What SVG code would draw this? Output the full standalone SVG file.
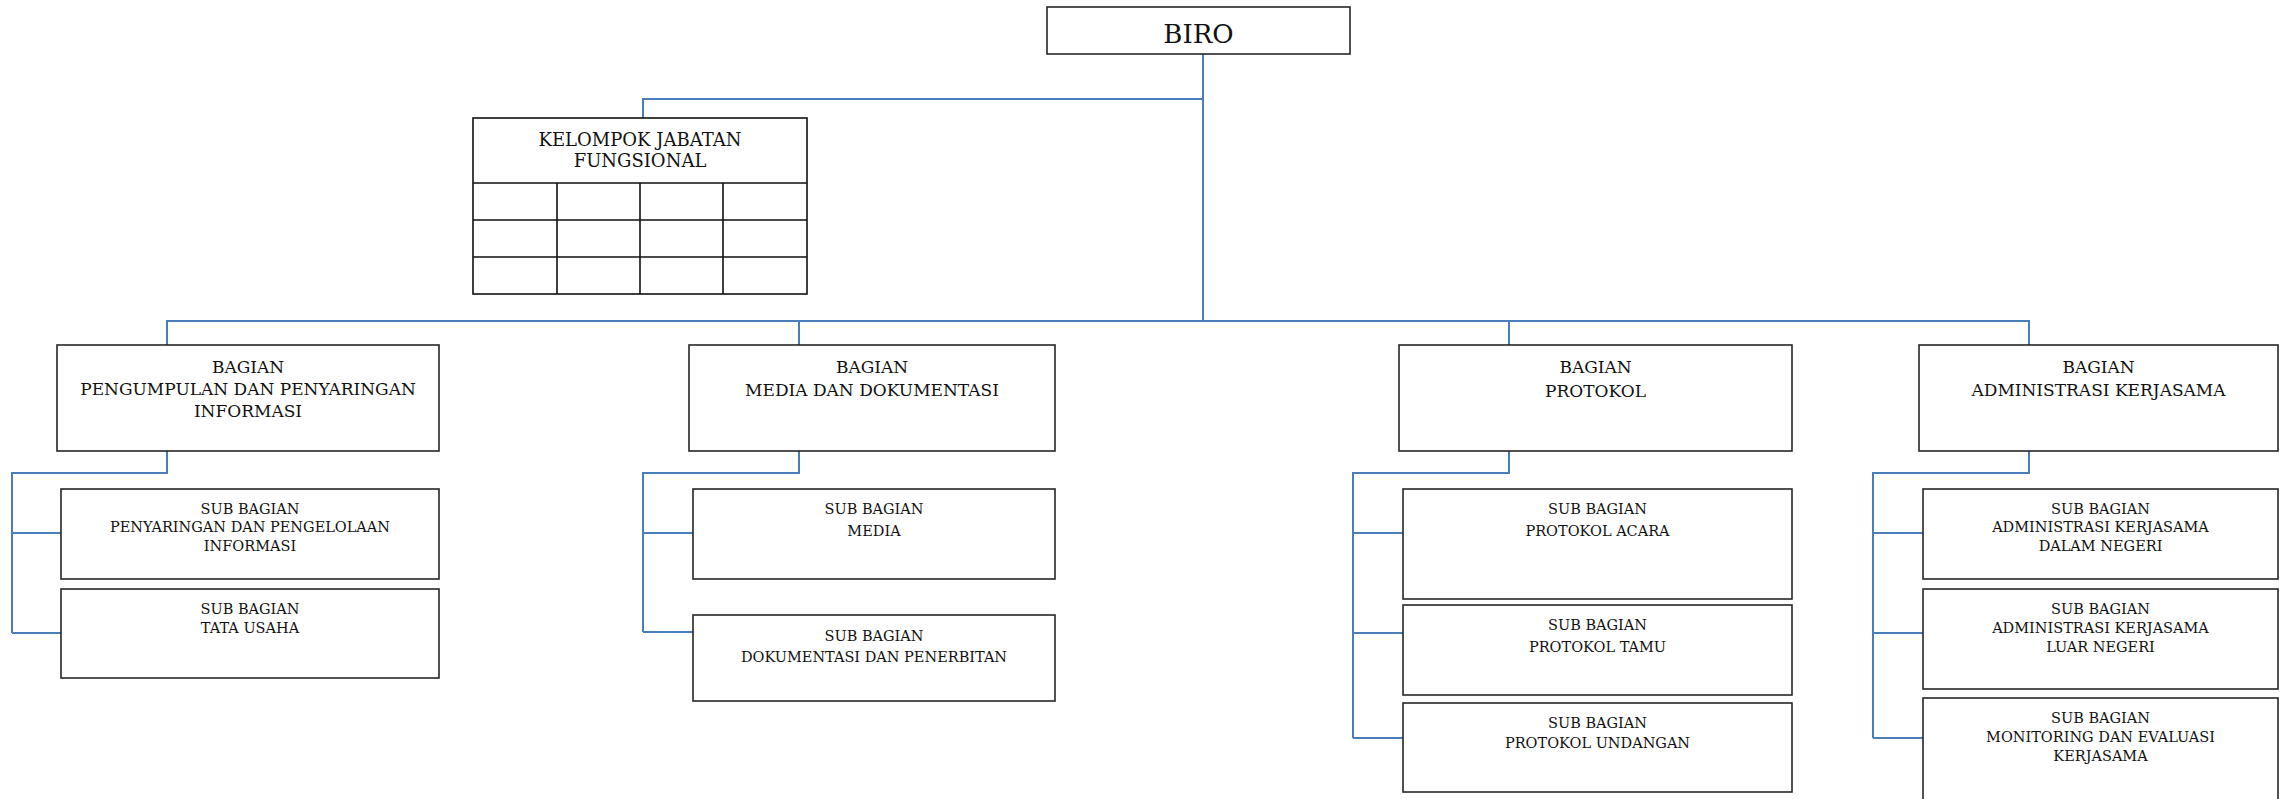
<svg xmlns="http://www.w3.org/2000/svg" width="2283" height="799" viewBox="0 0 2283 799">
<style>
.box{fill:#fff;stroke:#262626;stroke-width:1.6}
.grid{fill:none;stroke:#111;stroke-width:1.6}
.con{fill:none;stroke:#4a7ebb;stroke-width:2}
text{font-family:"DejaVu Serif","Liberation Serif",serif;fill:#111;text-anchor:middle}
.t0{font-size:26px}
.t1{font-size:17px}
.tk{font-size:18px}
.t2{font-size:14.5px}
</style>
<rect width="2283" height="799" fill="#fff"/>
<g id="connectors">
<path class="con" d="M1203 54V321"/>
<path class="con" d="M1203 99H643V118"/>
<path class="con" d="M167 345V321H2029V345"/>
<path class="con" d="M799 321V345"/>
<path class="con" d="M1509 321V345"/>
<path class="con" d="M167 451V473H12V633M12 533H61M12 633H61"/>
<path class="con" d="M799 451V473H643V632M643 533H693M643 632H693"/>
<path class="con" d="M1509 451V473H1353V738M1353 533H1403M1353 633H1403M1353 738H1403"/>
<path class="con" d="M2029 451V473H1873V738M1873 533H1923M1873 633H1923M1873 738H1923"/>
</g>
<g id="biro">
<rect class="box" x="1047" y="7" width="303" height="47"/>
<text class="t0" x="1198.5" y="43">BIRO</text>
</g>
<g id="kelompok">
<rect class="grid" x="473" y="118" width="334" height="176"/>
<path class="grid" d="M473 183H807M473 220H807M473 257H807M557 183V294M640 183V294M723 183V294"/>
<text class="tk" x="640" y="146">KELOMPOK JABATAN</text>
<text class="tk" x="640" y="167">FUNGSIONAL</text>
</g>
<g id="bagian-pengumpulan">
<rect class="box" x="57" y="345" width="382" height="106"/>
<text class="t1" x="248" y="373">BAGIAN</text>
<text class="t1" x="248" y="395">PENGUMPULAN DAN PENYARINGAN</text>
<text class="t1" x="248" y="417">INFORMASI</text>
</g>
<g id="sub-penyaringan">
<rect class="box" x="61" y="489" width="378" height="90"/>
<text class="t2" x="250" y="514">SUB BAGIAN</text>
<text class="t2" x="250" y="532">PENYARINGAN DAN PENGELOLAAN</text>
<text class="t2" x="250" y="551">INFORMASI</text>
</g>
<g id="sub-tata-usaha">
<rect class="box" x="61" y="589" width="378" height="89"/>
<text class="t2" x="250" y="614">SUB BAGIAN</text>
<text class="t2" x="250" y="633">TATA USAHA</text>
</g>
<g id="bagian-media">
<rect class="box" x="689" y="345" width="366" height="106"/>
<text class="t1" x="872" y="373">BAGIAN</text>
<text class="t1" x="872" y="396">MEDIA DAN DOKUMENTASI</text>
</g>
<g id="sub-media">
<rect class="box" x="693" y="489" width="362" height="90"/>
<text class="t2" x="874" y="514">SUB BAGIAN</text>
<text class="t2" x="874" y="536">MEDIA</text>
</g>
<g id="sub-dokumentasi">
<rect class="box" x="693" y="615" width="362" height="86"/>
<text class="t2" x="874" y="641">SUB BAGIAN</text>
<text class="t2" x="874" y="662">DOKUMENTASI DAN PENERBITAN</text>
</g>
<g id="bagian-protokol">
<rect class="box" x="1399" y="345" width="393" height="106"/>
<text class="t1" x="1595.5" y="373">BAGIAN</text>
<text class="t1" x="1595.5" y="397">PROTOKOL</text>
</g>
<g id="sub-acara">
<rect class="box" x="1403" y="489" width="389" height="110"/>
<text class="t2" x="1597.5" y="514">SUB BAGIAN</text>
<text class="t2" x="1597.5" y="536">PROTOKOL ACARA</text>
</g>
<g id="sub-tamu">
<rect class="box" x="1403" y="605" width="389" height="90"/>
<text class="t2" x="1597.5" y="630">SUB BAGIAN</text>
<text class="t2" x="1597.5" y="652">PROTOKOL TAMU</text>
</g>
<g id="sub-undangan">
<rect class="box" x="1403" y="703" width="389" height="89"/>
<text class="t2" x="1597.5" y="728">SUB BAGIAN</text>
<text class="t2" x="1597.5" y="748">PROTOKOL UNDANGAN</text>
</g>
<g id="bagian-administrasi">
<rect class="box" x="1919" y="345" width="359" height="106"/>
<text class="t1" x="2098.5" y="373">BAGIAN</text>
<text class="t1" x="2098.5" y="396">ADMINISTRASI KERJASAMA</text>
</g>
<g id="sub-dalam-negeri">
<rect class="box" x="1923" y="489" width="355" height="90"/>
<text class="t2" x="2100.5" y="514">SUB BAGIAN</text>
<text class="t2" x="2100.5" y="532">ADMINISTRASI KERJASAMA</text>
<text class="t2" x="2100.5" y="551">DALAM NEGERI</text>
</g>
<g id="sub-luar-negeri">
<rect class="box" x="1923" y="589" width="355" height="100"/>
<text class="t2" x="2100.5" y="614">SUB BAGIAN</text>
<text class="t2" x="2100.5" y="633">ADMINISTRASI KERJASAMA</text>
<text class="t2" x="2100.5" y="652">LUAR NEGERI</text>
</g>
<g id="sub-monev">
<rect class="box" x="1923" y="698" width="355" height="120"/>
<text class="t2" x="2100.5" y="723">SUB BAGIAN</text>
<text class="t2" x="2100.5" y="742">MONITORING DAN EVALUASI</text>
<text class="t2" x="2100.5" y="761">KERJASAMA</text>
</g>
</svg>
